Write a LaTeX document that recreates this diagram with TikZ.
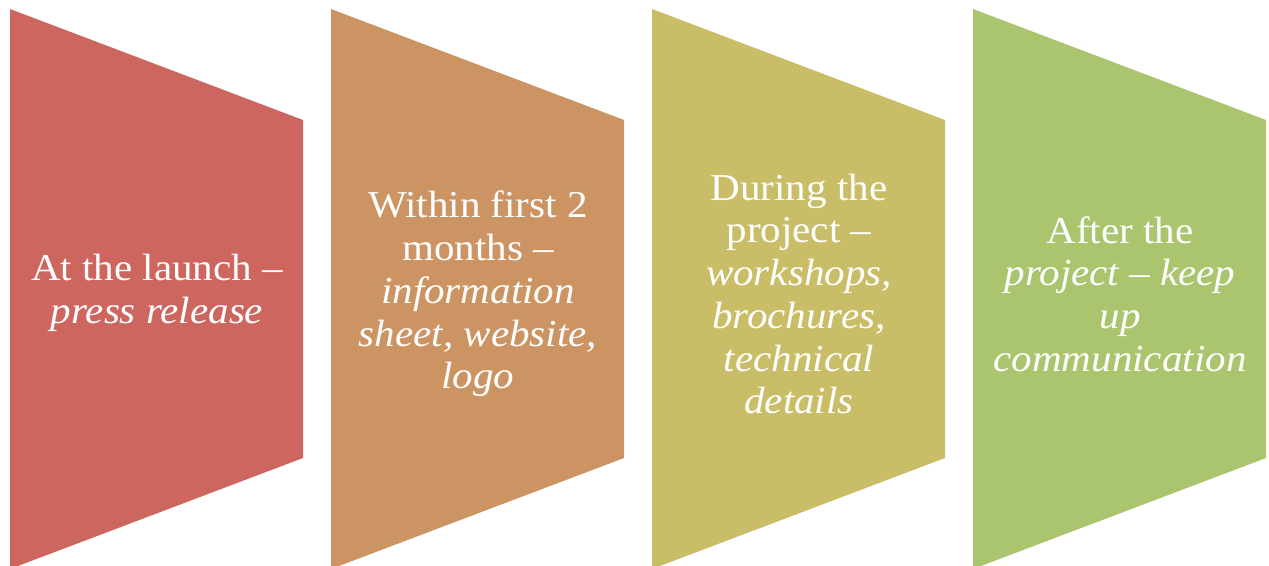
\documentclass[tikz,border=0pt]{standalone}
\usepackage{fontspec}
\setmainfont{Liberation Serif}[FakeStretch=1.08]
\definecolor{cred}{RGB}{204,102,95}
\definecolor{corange}{RGB}{204,148,98}
\definecolor{cyellow}{RGB}{202,189,103}
\definecolor{cgreen}{RGB}{171,196,110}
\tikzset{
  panel/.style={fill=#1, draw=none},
  label/.style={text=white, align=center, font=\fontsize{38}{42.7}\selectfont, inner sep=0pt}
}
\begin{document}
\begin{tikzpicture}[x=1pt,y=-1pt]
\useasboundingbox (0,0) rectangle (1269,565);
\begin{scope}
\clip (0,0) rectangle (1269,565);
\fill[panel=cred]    (10,9)  -- (303,120) -- (303,458) -- (10,569) -- cycle;
\fill[panel=corange] (331,9) -- (624,120) -- (624,458) -- (331,569) -- cycle;
\fill[panel=cyellow] (652,9) -- (945,120) -- (945,458) -- (652,569) -- cycle;
\fill[panel=cgreen]  (973,9) -- (1266,120) -- (1266,458) -- (973,569) -- cycle;
\end{scope}
\node[label] (t1) at (157,293) {At the launch –\\\textit{press release}};
\node[label] (t2) at (478,294) {Within first 2\\months –\\\textit{information}\\\textit{sheet, website,}\\\textit{logo}};
\node[label] (t3) at (799,294) {During the\\project –\\\textit{workshops,}\\\textit{brochures,}\\\textit{technical}\\\textit{details}};
\node[label] (t4) at (1120,294) {After the\\\textit{project – keep}\\\textit{up}\\\textit{communication}};
\end{tikzpicture}
\end{document}
